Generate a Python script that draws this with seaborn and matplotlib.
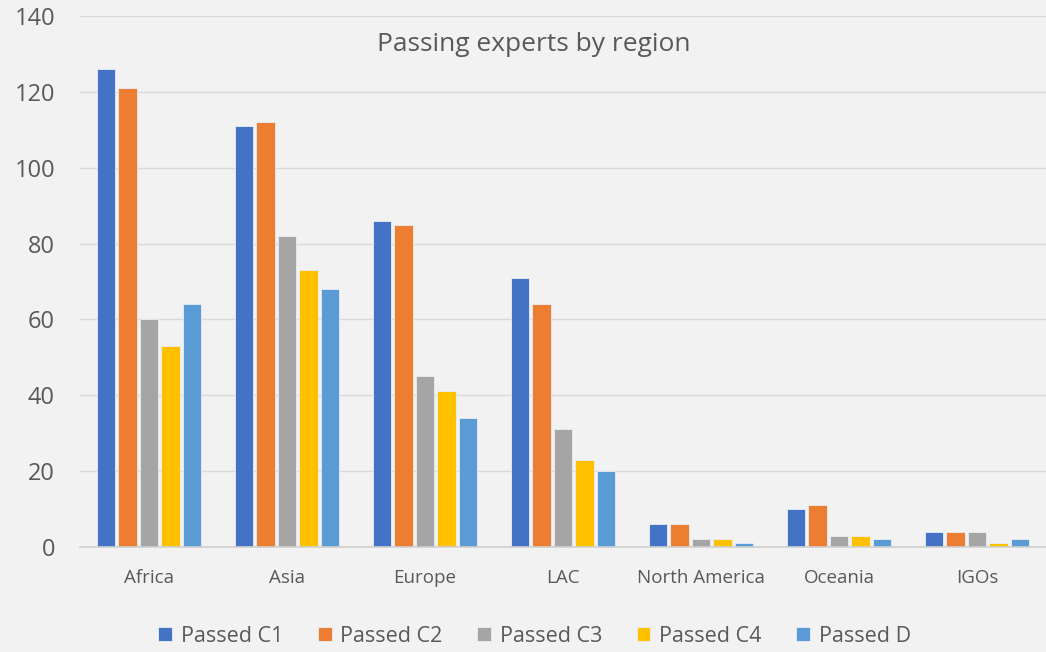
import numpy as np
import pandas as pd
import matplotlib.pyplot as plt
import seaborn as sns

regions = ['Africa', 'Asia', 'Europe', 'LAC', 'North America', 'Oceania', 'IGOs']
series = ['Passed C1', 'Passed C2', 'Passed C3', 'Passed C4', 'Passed D']
passed_c1 = [126, 111, 86, 71, 6, 10, 4]
passed_c2 = [121, 112, 85, 64, 6, 11, 4]
passed_c3 = [60, 82, 45, 31, 2, 3, 4]
passed_c4 = [53, 73, 41, 23, 2, 3, 1]
passed_d = [64, 68, 34, 20, 1, 2, 2]
colors = ['#4472C4', '#ED7D31', '#A5A5A5', '#FFC000', '#5B9BD5']

rows = []
for name, vals in zip(series, [passed_c1, passed_c2, passed_c3, passed_c4, passed_d]):
    for region, v in zip(regions, vals):
        rows.append({'Region': region, 'Series': name, 'Count': v})
df = pd.DataFrame(rows)

sns.set_style('white')
plt.rcParams['font.family'] = ['Open Sans', 'DejaVu Sans']
bg = '#f2f2f2'
txt = '#595959'

fig = plt.figure(figsize=(10.46, 6.52), dpi=100, facecolor=bg)
ax = fig.add_axes([80 / 1046, 105 / 652, 966 / 1046, 531 / 652])
ax.set_facecolor(bg)

sns.barplot(data=df, x='Region', y='Count', hue='Series', palette=colors,
            saturation=1, width=0.78, gap=0.15, edgecolor='#e8eef8',
            linewidth=0.6, ax=ax)

ax.set_ylim(0, 140)
ax.set_yticks(range(0, 141, 20))
ax.set_xlim(-0.5, len(regions) - 0.5)
ax.grid(axis='y', color='#d9d9d9', linewidth=1)
ax.set_axisbelow(True)
for side in ['left', 'right', 'top']:
    ax.spines[side].set_visible(False)
ax.spines['bottom'].set_color('#d0d0d0')
ax.spines['bottom'].set_linewidth(1.2)
ax.tick_params(axis='y', length=0, pad=18, labelsize=17, labelcolor=txt)
ax.tick_params(axis='x', length=0, pad=16, labelsize=13.5, labelcolor=txt)
ax.set_xlabel('')
ax.set_ylabel('')

ax.text(0.47, 0.947, 'Passing experts by region', transform=ax.transAxes,
        ha='center', va='center', fontsize=19, color=txt)

handles, labels = ax.get_legend_handles_labels()
ax.get_legend().remove()
fig.legend(handles, labels, loc='center', bbox_to_anchor=(0.511, 16 / 652), ncol=5,
           frameon=False, fontsize=15.5, labelcolor=txt, handlelength=0.65,
           handleheight=0.65, handletextpad=0.4, columnspacing=1.6)

fig.savefig('out.png', dpi=100, facecolor=bg)
